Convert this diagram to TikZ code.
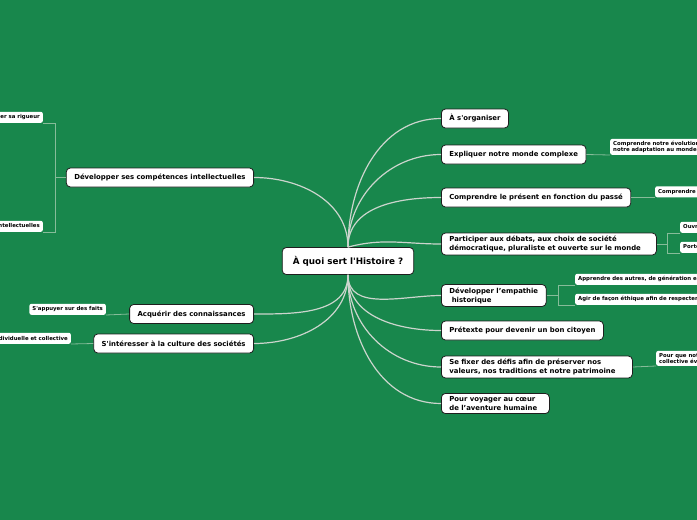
\documentclass[tikz,border=0pt]{standalone}
\usepackage{fontspec}
\usepackage{tikz}
\newfontfamily\mapfont{DejaVu Sans}
\definecolor{MapGreen}{HTML}{18874C}
\definecolor{Branch}{HTML}{CBD5CD}
\definecolor{Twig}{HTML}{86BC99}
\definecolor{Edge}{HTML}{1E1E1E}

\begin{document}
\begin{tikzpicture}[x=1pt,y=-1pt,
    topic/.style={draw=Edge,fill=white,rounded corners=4pt,line width=.8pt,
                  font=\mapfont\bfseries\fontsize{6.9}{9}\selectfont,
                  inner xsep=8pt,inner ysep=3pt,minimum height=19pt,align=left},
    rootbox/.style={topic,font=\mapfont\bfseries\fontsize{8.8}{10}\selectfont,
                    inner xsep=10.5pt,minimum height=27pt},
    leaf/.style={fill=white,rounded corners=2pt,
                 font=\mapfont\bfseries\fontsize{5.4}{6.5}\selectfont,
                 inner xsep=3pt,inner ysep=2pt,minimum height=11pt,align=left},
    branch/.style={draw=Branch,line width=1.2pt},
    twig/.style={draw=Twig,line width=.8pt}]
    \fill[MapGreen] (0,0) rectangle (697,520);
    \clip (0,0) rectangle (697,520);
    % centre
    \node[rootbox] (root) at (348,261) {À quoi sert l'Histoire ?};
    % right side
    \node[topic,anchor=west] (org)  at (441,118.5) {À s'organiser};
    \node[topic,anchor=west] (expl) at (441,154.5) {Expliquer notre monde complexe};
    \node[topic,anchor=west] (pres) at (441,197.5) {Comprendre le présent en fonction du passé};
    \node[topic,anchor=west,text width=199pt] (part) at (441,244)
      {Participer aux débats, aux choix de société\\démocratique, pluraliste et ouverte sur le monde};
    \node[topic,anchor=west] (emp)  at (441,295.5) {Développer l’empathie\\\hspace*{.35em}historique};
    \node[topic,anchor=west] (cit)  at (441,330.5) {Prétexte pour devenir un bon citoyen};
    \node[topic,anchor=west,text width=175pt] (defi) at (441,367)
      {Se fixer des défis afin de préserver nos\\valeurs, nos traditions et notre patrimoine};
    \node[topic,anchor=west,text width=92pt] (voy)  at (441,403.5) {Pour voyager au cœur\\de l’aventure humaine};
    % left side
    \node[topic,anchor=east] (comp) at (254,177.5) {Développer ses compétences intellectuelles};
    \node[topic,anchor=east] (conn) at (254,314) {Acquérir des connaissances};
    \node[topic,anchor=east] (cult) at (254,343.5) {S'intéresser à la culture des sociétés};
    % leaves
    \node[leaf,anchor=south east] (rig)   at (43,123) {Développer sa rigueur};
    \node[leaf,anchor=south east] (intel) at (43,232) {Développer ses capacités intellectuelles};
    \node[leaf,anchor=south east] (faits) at (106,315) {S'appuyer sur des faits};
    \node[leaf,anchor=south east] (indiv) at (71,344) {Construire son identité individuelle et collective};
    \node[leaf,anchor=south west] (evol)  at (610,155)
      {Comprendre notre évolution et\\notre adaptation au monde};
    \node[leaf,anchor=south west] (actu)  at (655,197.5) {Comprendre le monde actuel};
    \node[leaf,anchor=south west] (ouv)   at (680,233) {Ouvrir son esprit};
    \node[leaf,anchor=south west] (port)  at (680,253) {Porter un regard critique};
    \node[leaf,anchor=south west] (appr)  at (575,285) {Apprendre des autres, de génération en génération};
    \node[leaf,anchor=south west] (agir)  at (575,305) {Agir de façon éthique afin de respecter autrui};
    \node[leaf,anchor=south west] (mem)   at (656,366)
      {Pour que notre mémoire\\collective évolue};
    % branches
    \draw[branch] (root.north) to[out=90,in=180] (org.west);
    \draw[branch] (root.north) to[out=90,in=180] (expl.west);
    \draw[branch] (root.north) to[out=90,in=180] (pres.west);
    \draw[branch] (root.north) to[out=15,in=180] (part.west);
    \draw[branch] (root.south) to[out=-90,in=180] (emp.west);
    \draw[branch] (root.south) to[out=-90,in=180] (cit.west);
    \draw[branch] (root.south) to[out=-90,in=180] (defi.west);
    \draw[branch] (root.south) to[out=-90,in=180] (voy.west);
    \draw[branch] (root.north) to[out=90,in=0] (comp.east);
    \draw[branch] (root.south) to[out=-90,in=0] (conn.east);
    \draw[branch] (root.south) to[out=-90,in=0] (cult.east);
    % twigs
    \draw[twig] (comp.west) -- ++(-10,0) coordinate (cb) |- (rig.south east);
    \draw[twig] (cb) |- (intel.south east);
    \draw[twig] (conn.west) -- (faits.south east);
    \draw[twig] (cult.west) -- (indiv.south east);
    \draw[twig] (expl.east) -- (evol.south west);
    \draw[twig] (pres.east) -- (actu.south west);
    \draw[twig] (part.east) -- ++(11,0) coordinate (pb) |- (ouv.south west);
    \draw[twig] (pb) |- (port.south west);
    \draw[twig] (emp.east) -- ++(12,0) coordinate (eb) |- (appr.south west);
    \draw[twig] (eb) |- (agir.south west);
    \draw[twig] (defi.east) -- (mem.south west);
\end{tikzpicture}
\end{document}
